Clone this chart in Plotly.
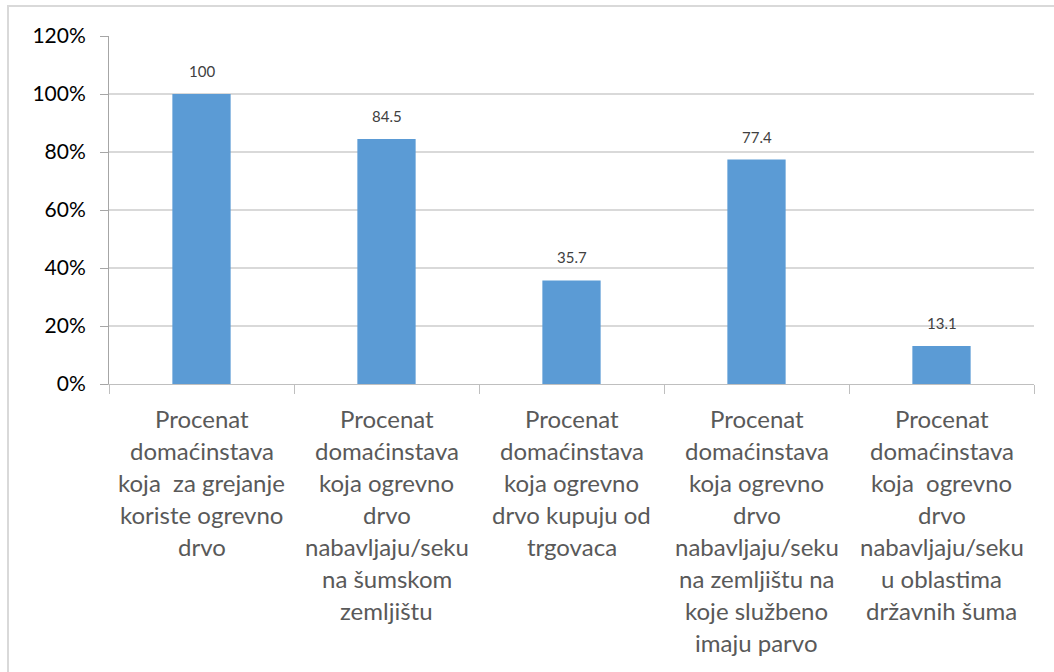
import plotly.graph_objects as go

categories = [
    ["Procenat", "domaćinstava", "koja  za grejanje", "koriste ogrevno", "drvo"],
    ["Procenat", "domaćinstava", "koja ogrevno", "drvo", "nabavljaju/seku", "na šumskom", "zemljištu"],
    ["Procenat", "domaćinstava", "koja ogrevno", "drvo kupuju od", "trgovaca"],
    ["Procenat", "domaćinstava", "koja ogrevno", "drvo", "nabavljaju/seku", "na zemljištu na", "koje službeno", "imaju parvo"],
    ["Procenat", "domaćinstava", "koja  ogrevno", "drvo", "nabavljaju/seku", "u oblastima", "državnih šuma"],
]
values = [100, 84.5, 35.7, 77.4, 13.1]
value_labels = ["100", "84.5", "35.7", "77.4", "13.1"]
y_ticks = [0, 20, 40, 60, 80, 100, 120]
y_tick_labels = ["0%", "20%", "40%", "60%", "80%", "100%", "120%"]

cat_ids = ["c%d" % i for i in range(len(values))]
FONT = "Lato, Calibri, Carlito, sans-serif"

fig = go.Figure(go.Bar(
    x=cat_ids, y=values, marker=dict(color="#5B9BD5", line=dict(width=0)),
    width=0.315, hoverinfo="skip",
))

annotations = []
for cid, v, lab in zip(cat_ids, values, value_labels):
    annotations.append(dict(x=cid, y=v, xref="x", yref="y", text=lab, showarrow=False,
                            yshift=23, yanchor="middle",
                            font=dict(family=FONT, size=15, color="#404040")))
for cid, lines in zip(cat_ids, categories):
    for i, line in enumerate(lines):
        annotations.append(dict(x=cid, y=0, xref="x", yref="y", text=line, showarrow=False,
                                yshift=-(34 + 32 * i), yanchor="middle", xanchor="center",
                                font=dict(family=FONT, size=24, color="#595959")))

W, H = 1054, 672
L, R, T, B = 109, 20, 36, 288
pw, ph = W - L - R, H - T - B

def px(xp):
    return (xp - L) / pw

def py(yp):
    return (H - B - yp) / ph

fig.update_layout(
    width=W, height=H,
    margin=dict(l=L, r=R, t=T, b=B),
    paper_bgcolor="white", plot_bgcolor="white",
    showlegend=False,
    font=dict(family=FONT),
    annotations=annotations,
    shapes=[dict(type="rect", xref="paper", yref="paper",
                 x0=px(8), x1=px(1060), y0=py(690), y1=py(6),
                 line=dict(color="#d9d9d9", width=2), fillcolor="rgba(0,0,0,0)", layer="below")],
    xaxis=dict(
        type="category", showticklabels=False, ticks="outside", tickson="boundaries",
        ticklen=9, tickcolor="#bfbfbf", showline=True, linecolor="#bfbfbf", linewidth=1,
        showgrid=False, range=[-0.5, 4.5],
    ),
    yaxis=dict(
        range=[0, 120], tickmode="array", tickvals=y_ticks, ticktext=y_tick_labels,
        ticks="outside", ticklen=8,
        tickcolor="#a6a6a6", showline=True, linecolor="#a6a6a6", linewidth=1,
        gridcolor="#d9d9d9", gridwidth=1.5, zeroline=False,
        tickfont=dict(family=FONT, size=21, color="#000000"), ticklabelstandoff=10,
    ),
)

fig.write_html("out.html", config={"displayModeBar": False, "staticPlot": True},
               post_script="document.body.style.margin='0';document.body.style.overflow='hidden';")
